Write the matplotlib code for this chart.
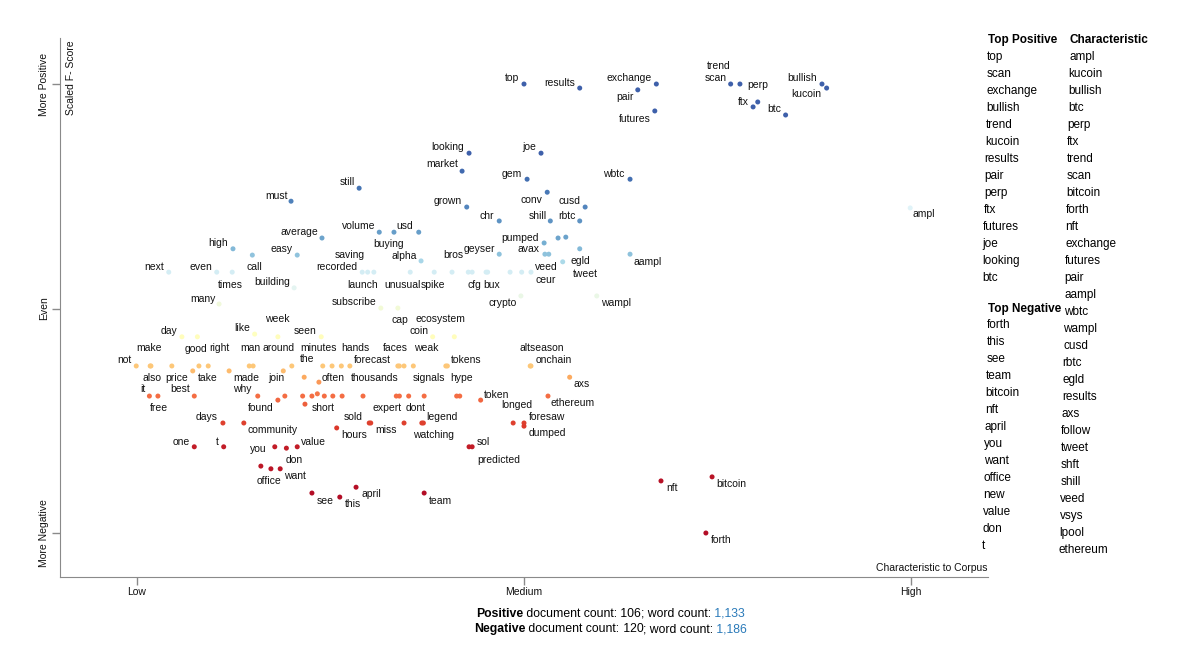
import matplotlib
matplotlib.use('Agg')
import matplotlib.pyplot as plt
import numpy as np

plt.rcParams['font.family'] = ['Liberation Sans', 'DejaVu Sans']

# labelled terms: characteristic score (x), scaled f-score (y)
terms = ['top', 'results', 'exchange', 'pair', 'futures', 'scan', 'trend', 'perp', 'ftx', 'btc',
         'bullish', 'kucoin', 'joe', 'looking', 'market', 'gem', 'wbtc', 'still', 'must', 'grown',
         'conv', 'cusd', 'chr', 'shill', 'rbtc', 'ampl', 'average', 'volume', 'buying', 'usd',
         'pumped', 'avax', 'veed', 'geyser', 'high', 'easy', 'call', 'egld', 'tweet', 'aampl',
         'alpha', 'next', 'even', 'times', 'recorded', 'saving', 'launch', 'unusual', 'spike', 'bros',
         'cfg', 'bux', 'ceur', 'building', 'crypto', 'wampl', 'many', 'subscribe', 'cap', 'coin',
         'ecosystem', 'day', 'like', 'week', 'seen',
         'not', 'make', 'also', 'price', 'good', 'right', 'take', 'made', 'man', 'around',
         'join', 'the', 'minutes', 'hands', 'forecast', 'often', 'faces', 'thousands', 'weak', 'signals',
         'tokens', 'hype', 'onchain', 'altseason', 'axs',
         'it', 'free', 'best', 'why', 'found', 'short', 'expert', 'dont', 'token', 'ethereum',
         'longed', 'foresaw', 'dumped', 'days', 'community', 'hours', 'sold', 'miss', 'legend', 'watching',
         'sol', 'predicted', 'one', 't', 'you', 'value', 'don', 'office', 'want', 'see',
         'this', 'april', 'team', 'nft', 'bitcoin', 'forth']
char_x = [0.500, 0.572, 0.671, 0.647, 0.669, 0.767, 0.779, 0.802, 0.796, 0.838,
          0.885, 0.891, 0.522, 0.429, 0.420, 0.504, 0.637, 0.287, 0.199, 0.426,
          0.530, 0.579, 0.468, 0.534, 0.572, 0.999, 0.239, 0.313, 0.332, 0.364,
          0.526, 0.527, 0.532, 0.468, 0.124, 0.207, 0.149, 0.572, 0.550, 0.637,
          0.367, 0.041, 0.103, 0.123, 0.291, 0.298, 0.306, 0.353, 0.384, 0.428,
          0.433, 0.453, 0.509, 0.203, 0.496, 0.594, 0.106, 0.315, 0.337, 0.382,
          0.410, 0.058, 0.152, 0.182, 0.238,
          -0.001, 0.017, 0.018, 0.045, 0.080, 0.092, 0.072, 0.119, 0.145, 0.200,
          0.189, 0.240, 0.252, 0.264, 0.275, 0.235, 0.337, 0.339, 0.345, 0.357,
          0.399, 0.401, 0.509, 0.508, 0.559,
          0.016, 0.027, 0.074, 0.156, 0.182, 0.242, 0.335, 0.351, 0.444, 0.531,
          0.486, 0.500, 0.500, 0.111, 0.138, 0.258, 0.300, 0.345, 0.368, 0.370,
          0.429, 0.433, 0.074, 0.112, 0.178, 0.207, 0.193, 0.160, 0.185, 0.226,
          0.262, 0.283, 0.371, 0.677, 0.743, 0.735]
score_y = [1.000, 0.991, 1.000, 0.987, 0.940, 1.000, 1.000, 0.960, 0.949, 0.931,
           1.000, 0.991, 0.846, 0.846, 0.806, 0.788, 0.788, 0.768, 0.739, 0.726,
           0.759, 0.726, 0.695, 0.695, 0.695, 0.724, 0.657, 0.670, 0.670, 0.670,
           0.646, 0.621, 0.621, 0.621, 0.633, 0.619, 0.619, 0.633, 0.604, 0.621,
           0.606, 0.581, 0.581, 0.581, 0.581, 0.581, 0.581, 0.581, 0.581, 0.581,
           0.581, 0.581, 0.581, 0.546, 0.528, 0.528, 0.510, 0.501, 0.501, 0.437,
           0.437, 0.437, 0.443, 0.437, 0.437,
           0.372, 0.372, 0.372, 0.372, 0.372, 0.372, 0.361, 0.361, 0.372, 0.372,
           0.361, 0.372, 0.372, 0.372, 0.372, 0.336, 0.372, 0.372, 0.372, 0.372,
           0.372, 0.372, 0.372, 0.372, 0.347,
           0.305, 0.305, 0.305, 0.305, 0.296, 0.305, 0.305, 0.305, 0.296, 0.305,
           0.245, 0.245, 0.238, 0.245, 0.245, 0.234, 0.245, 0.245, 0.245, 0.245,
           0.192, 0.192, 0.192, 0.192, 0.192, 0.192, 0.189, 0.149, 0.143, 0.089,
           0.080, 0.102, 0.089, 0.116, 0.125, 0.000]

# terms drawn without a label
other_x = [0.078, 0.544, 0.554, 0.407, 0.451, 0.482, 0.497, 0.150, 0.216, 0.191,
           0.214, 0.217, 0.226, 0.233, 0.253, 0.265, 0.292, 0.339, 0.371, 0.413,
           0.417, 0.302, 0.173]
other_y = [0.437, 0.657, 0.659, 0.581, 0.581, 0.581, 0.581, 0.372, 0.347, 0.305,
           0.305, 0.287, 0.305, 0.310, 0.305, 0.305, 0.305, 0.305, 0.305, 0.305,
           0.305, 0.245, 0.143]

top_positive = ['top', 'scan', 'exchange', 'bullish', 'trend', 'kucoin', 'results', 'pair',
                'perp', 'ftx', 'futures', 'joe', 'looking', 'btc']
top_negative = ['forth', 'this', 'see', 'team', 'bitcoin', 'nft', 'april', 'you', 'want',
                'office', 'new', 'value', 'don', 't']
characteristic = ['ampl', 'kucoin', 'bullish', 'btc', 'perp', 'ftx', 'trend', 'scan', 'bitcoin',
                  'forth', 'nft', 'exchange', 'futures', 'pair', 'aampl', 'wbtc', 'wampl', 'cusd',
                  'rbtc', 'egld', 'results', 'axs', 'follow', 'tweet', 'shft', 'shill', 'veed',
                  'vsys', 'lpool', 'ethereum']

pos_docs, pos_words = '106', '1,133'
neg_docs, neg_words = '120', '1,186'

# label placement (pixel offset of label centre from its dot, screen y down)
label_off = {
    'top': (-12, -6), 'results': (-20, -5), 'exchange': (-27, -6), 'pair': (-13, 7),
    'futures': (-20, 8), 'scan': (-15, -6), 'trend': (-21, -18), 'perp': (0, -17),
    'ftx': (-10, -5), 'btc': (-11, -6), 'bullish': (-20, -6), 'kucoin': (-20, 6),
    'joe': (-12, -6), 'looking': (-21, -6), 'market': (-20, -7), 'gem': (-15, -5),
    'wbtc': (-16, -5), 'still': (-12, -6), 'must': (-15, -5), 'grown': (-19, -6),
    'conv': (-16, 8), 'cusd': (-16, -6), 'chr': (-12, -5), 'shill': (-13, -5),
    'rbtc': (-13, -5), 'ampl': (14, 6), 'average': (-23, -6), 'volume': (-21, -6),
    'buying': (-5, 12), 'usd': (-14, -6), 'pumped': (-24, -5), 'avax': (-16, -5),
    'veed': (-2, 13), 'geyser': (-20, -5), 'high': (-15, -6), 'easy': (-16, -6),
    'call': (2, 12), 'egld': (1, 12), 'tweet': (23, 12), 'aampl': (18, 8),
    'alpha': (-17, -5), 'next': (-15, -5), 'even': (-16, -5), 'times': (-2, 13),
    'recorded': (-25, -5), 'saving': (-18, -17), 'launch': (-11, 13), 'unusual': (-8, 13),
    'spike': (-1, 13), 'bros': (-15, -17), 'cfg': (2, 13), 'bux': (4, 13),
    'ceur': (15, 8), 'building': (-22, -6), 'crypto': (-18, 7), 'wampl': (19, 7),
    'many': (-16, -5), 'subscribe': (-27, -6), 'cap': (2, 12), 'coin': (-14, -6),
    'ecosystem': (-14, -18), 'day': (-13, -6), 'like': (-12, -6), 'week': (-1, -18),
    'seen': (-16, -6), 'not': (-12, -6), 'make': (-1, -18), 'also': (1, 12),
    'price': (5, 12), 'good': (-3, -17), 'right': (11, -18), 'take': (15, 7),
    'made': (17, 7), 'man': (1, -18), 'around': (-13, -18), 'join': (-7, 7),
    'the': (-16, -7), 'minutes': (-14, -18), 'hands': (14, -18), 'forecast': (23, -6),
    'often': (14, -4), 'faces': (-2, -18), 'thousands': (-25, 12), 'weak': (22, -18),
    'signals': (16, 12), 'tokens': (20, -6), 'hype': (14, 12), 'onchain': (23, -6),
    'altseason': (12, -18), 'axs': (12, 7), 'it': (-7, -7), 'free': (1, 12),
    'best': (-14, -7), 'why': (-15, -7), 'found': (-17, 8), 'short': (-1, 12),
    'expert': (-9, 12), 'dont': (7, 12), 'token': (16, -5), 'ethereum': (25, 7),
    'longed': (4, -18), 'foresaw': (23, -6), 'dumped': (23, 7), 'days': (-16, -6),
    'community': (29, 7), 'hours': (17, 7), 'sold': (-16, -6), 'miss': (-18, 7),
    'legend': (20, -6), 'watching': (10, 12), 'sol': (14, -5), 'predicted': (27, 13),
    'one': (-13, -5), 't': (-6, -5), 'you': (-16, 2), 'value': (16, -5),
    'don': (8, 12), 'office': (8, 15), 'want': (15, 7), 'see': (13, 8),
    'this': (13, 7), 'april': (15, 7), 'team': (16, 8), 'nft': (11, 7),
    'bitcoin': (19, 7), 'forth': (15, 7),
}


def dot_color(y):
    c = np.interp(y, [0, 0.19, 0.305, 0.372, 0.44, 0.5, 0.58, 0.62, 0.66, 0.77, 1.0],
                  [0.0, 0.06, 0.2, 0.35, 0.5, 0.54, 0.62, 0.75, 0.82, 0.9, 1.0])
    return plt.cm.RdYlBu(np.clip(c, 0.03, 0.93))


W, H = 1200, 650
fig = plt.figure(figsize=(12, 6.5), dpi=100)
ax = fig.add_axes([60 / W, 1 - 577 / H, 928 / W, 539 / H])

cols = [dot_color(v) for v in score_y]
cols[terms.index('ampl')] = plt.cm.RdYlBu(0.6)
ax.scatter(other_x, other_y, s=13, c=[dot_color(v) for v in other_y], linewidths=0, zorder=2)
ax.scatter(char_x, score_y, s=13, c=cols, linewidths=0, zorder=2)

for t, x, y in zip(terms, char_x, score_y):
    dx, dy = label_off[t]
    ax.annotate(t, (x, y), xytext=(dx, -dy), textcoords='offset pixels',
                ha='center', va='center', fontsize=7.5, color='#111111', zorder=3)

ax.set_xlim(-0.0995, 1.0995)
ax.set_ylim(-0.098, 1.1025)
for s in ['top', 'right']:
    ax.spines[s].set_visible(False)
for s in ['left', 'bottom']:
    ax.spines[s].set_color('#8a8a8a')
ax.set_xticks([0, 0.5, 1])
ax.set_xticklabels(['Low', 'Medium', 'High'], fontsize=7.5)
ax.set_yticks([0, 0.5, 1])
ax.set_yticklabels(['More Negative', 'Even', 'More Positive'], fontsize=7.5,
                   rotation=90, va='center')
ax.tick_params(colors='#8a8a8a', labelcolor='#111111', length=6, width=1)
ax.tick_params(axis='y', pad=2)
ax.tick_params(axis='x', pad=1)

ax.text(11 / 928, 1 - 2 / 539, 'Scaled F- Score', transform=ax.transAxes, rotation=90,
        ha='center', va='top', fontsize=7.5, color='#111111')
ax.text(1.0, 9 / 539, 'Characteristic to Corpus', transform=ax.transAxes,
        ha='right', va='center', fontsize=7.5, color='#111111')


def ftext(x, y, s, **kw):
    return fig.text(x / W, 1 - y / H, s, **kw)


# term lists on the right
ftext(988, 40, 'Top Positive', fontsize=8.5, weight='bold', va='center')
for i, w in enumerate(top_positive):
    ftext(987 - 0.4 * i, 57 + 17 * i, w, fontsize=8.5, va='center')
ftext(988, 309, 'Top Negative', fontsize=8.5, weight='bold', va='center')
for i, w in enumerate(top_negative):
    ftext(987 - 0.4 * i, 325 + 17 * i, w, fontsize=8.5, va='center')
ftext(1069, 40, 'Characteristic', fontsize=8.5, weight='bold', va='center')
for i, w in enumerate(characteristic):
    ftext(1069 - 0.35 * i, 57 + 17 * i, w, fontsize=8.5, va='center')

# document / word counts, built piece by piece
blue = '#2a7ab9'
for (yy, x0, name, nd, nw) in [(620, 476, 'Positive', pos_docs, pos_words),
                              (635, 474, 'Negative', neg_docs, neg_words)]:
    prev = ftext(x0, yy, name, fontsize=8.8, weight='bold', va='bottom', ha='left')
    for txt, kw in [(' document count:', {}), (' ' + nd, {}), ('; word count:', {}),
                    (' ' + nw, {'color': blue})]:
        prev = ax.annotate(txt, xy=(1, 0), xycoords=prev, va='bottom', ha='left',
                           fontsize=8.8, annotation_clip=False, **kw)

fig.savefig('out.png', dpi=100)
